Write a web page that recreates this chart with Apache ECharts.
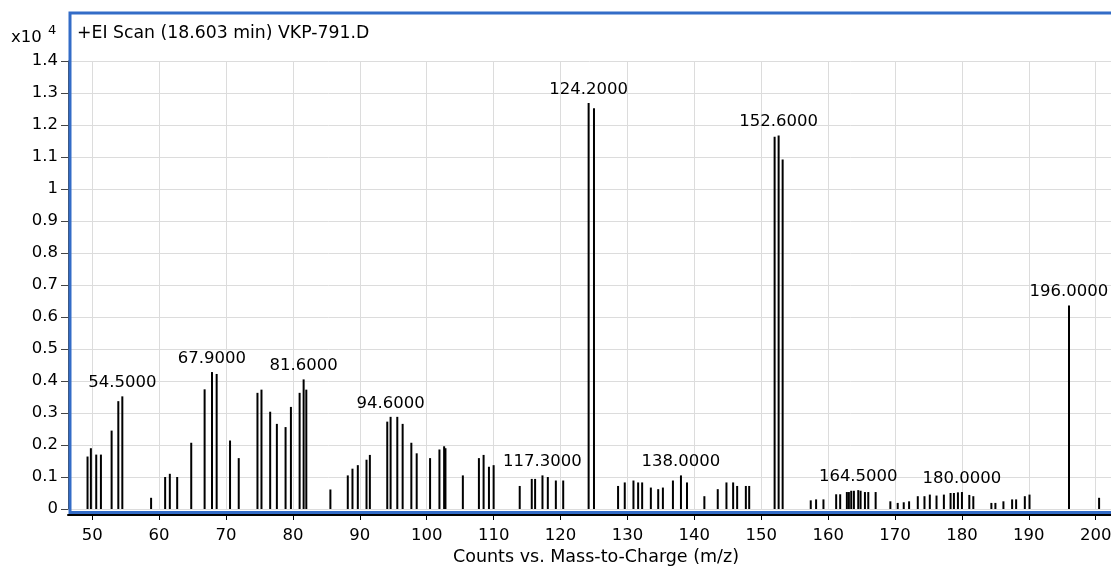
<!DOCTYPE html>
<html><head><meta charset="utf-8">
<script src="https://cdn.jsdelivr.net/npm/echarts@6/dist/echarts.min.js"></script>
<style>html,body{margin:0;padding:0;background:#fff}#c{width:1111px;height:569px}</style>
</head><body><div id="c"></div>
<script>
const mz = [49.3, 49.8, 50.6, 51.3, 52.9, 53.9, 54.5, 58.8, 60.9, 61.6, 62.7, 64.8, 66.8, 67.9, 68.6, 70.6, 71.9,
  74.7, 75.3, 76.6, 77.6, 78.9, 79.7, 81.0, 81.6, 82.0, 85.6, 88.2, 88.9, 89.7, 91.0, 91.5,
  94.1, 94.6, 95.6, 96.4, 97.7, 98.5, 100.5, 101.9, 102.6, 102.8, 105.4, 107.8, 108.5, 109.3, 110.0,
  113.9, 115.7, 116.2, 117.3, 118.1, 119.3, 120.4, 124.2, 125.0, 128.6, 129.6, 130.9, 131.6, 132.2,
  133.5, 134.6, 135.3, 136.8, 138.0, 138.9, 141.5, 143.5, 144.8, 145.8, 146.4, 147.7, 148.2,
  152.0, 152.6, 153.2, 157.4, 158.2, 159.3, 161.2, 161.8, 162.8, 163.1, 163.45, 163.85, 164.5, 164.85,
  165.5, 166.0, 167.1, 169.3, 170.4, 171.3, 172.1, 173.4, 174.4, 175.2, 176.2, 177.3, 178.3, 178.8,
  179.4, 180.0, 181.1, 181.7, 184.4, 185.0, 186.2, 187.5, 188.1, 189.4, 190.1, 196.0, 200.5];
const counts = [0.164, 0.190, 0.170, 0.170, 0.245, 0.337, 0.352, 0.035, 0.100, 0.110, 0.100, 0.207, 0.374, 0.428, 0.422, 0.214, 0.159,
  0.363, 0.373, 0.304, 0.266, 0.256, 0.319, 0.363, 0.405, 0.373, 0.061, 0.105, 0.126, 0.137, 0.154, 0.169,
  0.273, 0.288, 0.288, 0.266, 0.207, 0.174, 0.159, 0.186, 0.196, 0.190, 0.105, 0.159, 0.169, 0.132, 0.137,
  0.072, 0.094, 0.094, 0.105, 0.100, 0.089, 0.089, 1.269, 1.252, 0.072, 0.083, 0.089, 0.083, 0.083,
  0.067, 0.062, 0.067, 0.089, 0.105, 0.083, 0.040, 0.062, 0.083, 0.083, 0.072, 0.072, 0.072,
  1.163, 1.167, 1.092, 0.027, 0.030, 0.030, 0.046, 0.046, 0.053, 0.053, 0.057, 0.057, 0.059, 0.057,
  0.053, 0.053, 0.053, 0.024, 0.019, 0.021, 0.024, 0.040, 0.040, 0.045, 0.042, 0.045, 0.050, 0.050,
  0.052, 0.053, 0.044, 0.040, 0.019, 0.019, 0.024, 0.030, 0.030, 0.040, 0.045, 0.636, 0.035];
const labeledPeaks = [54.5, 67.9, 81.6, 94.6, 117.3, 124.2, 138.0, 152.6, 164.5, 180.0, 196.0];
const xTicks = [50, 60, 70, 80, 90, 100, 110, 120, 130, 140, 150, 160, 170, 180, 190, 200];
const titleText = '+EI Scan (18.603 min) VKP-791.D';
const xName = 'Counts vs. Mass-to-Charge (m/z)';

const FONT = 'DejaVu Sans';
const FS = 16.5;
const chart = echarts.init(document.getElementById('c'), null, {renderer: 'canvas'});
const data = mz.map((m, i) => ({
  value: [m, counts[i]],
  label: {show: labeledPeaks.indexOf(m) >= 0}
}));
chart.setOption({
  animation: false,
  backgroundColor: '#fff',
  grid: {left: 68, right: 0, top: 61, bottom: 60, containLabel: false, outerBoundsMode: 'none'},
  xAxis: {
    type: 'value', min: 46.38, max: 202.28,
    offset: 6,
    axisLine: {show: true, onZero: false, lineStyle: {color: '#000', width: 2}},
    axisTick: {show: true, length: 5, lineStyle: {color: '#000'}, customValues: xTicks},
    axisLabel: {fontFamily: FONT, fontSize: FS, color: '#000', margin: 12, customValues: xTicks, hideOverlap: false},
    splitLine: {show: true, lineStyle: {color: '#dcdcdc', width: 1}}
  },
  yAxis: {
    type: 'value', min: 0, max: 1.4, interval: 0.1,
    axisLine: {show: true, lineStyle: {color: '#444', width: 1}},
    axisTick: {show: true, length: 7, lineStyle: {color: '#444'}},
    axisLabel: {fontFamily: FONT, fontSize: FS, color: '#000', margin: 10},
    splitLine: {show: true, lineStyle: {color: '#dcdcdc', width: 1}}
  },
  series: [{
    type: 'bar',
    barWidth: 2,
    data: data,
    itemStyle: {color: '#000'},
    label: {
      position: 'top', distance: 5, fontFamily: FONT, fontSize: FS, color: '#000',
      formatter: p => p.value[0].toFixed(4)
    },
    z: 3
  }],
  graphic: [
    {type: 'rect', z: 100, shape: {x: 70, y: 13, width: 1100, height: 499.5},
     style: {fill: 'none', stroke: '#336cc7', lineWidth: 3}},
    {type: 'text', z: 101, x: 77, y: 34,
     style: {text: titleText, font: '17.3px "' + FONT + '"', fill: '#000', verticalAlign: 'middle', align: 'left'}},
    {type: 'text', z: 101, x: 11, y: 38,
     style: {text: 'x10', font: FS + 'px "' + FONT + '"', fill: '#000', verticalAlign: 'middle', align: 'left'}},
    {type: 'text', z: 101, x: 48, y: 31,
     style: {text: '4', font: '13px "' + FONT + '"', fill: '#000', verticalAlign: 'middle', align: 'left'}},
    {type: 'text', z: 101, x: 596, y: 557,
     style: {text: xName, font: '17.5px "' + FONT + '"', fill: '#000', verticalAlign: 'middle', align: 'center'}}
  ]
});
</script></body></html>
